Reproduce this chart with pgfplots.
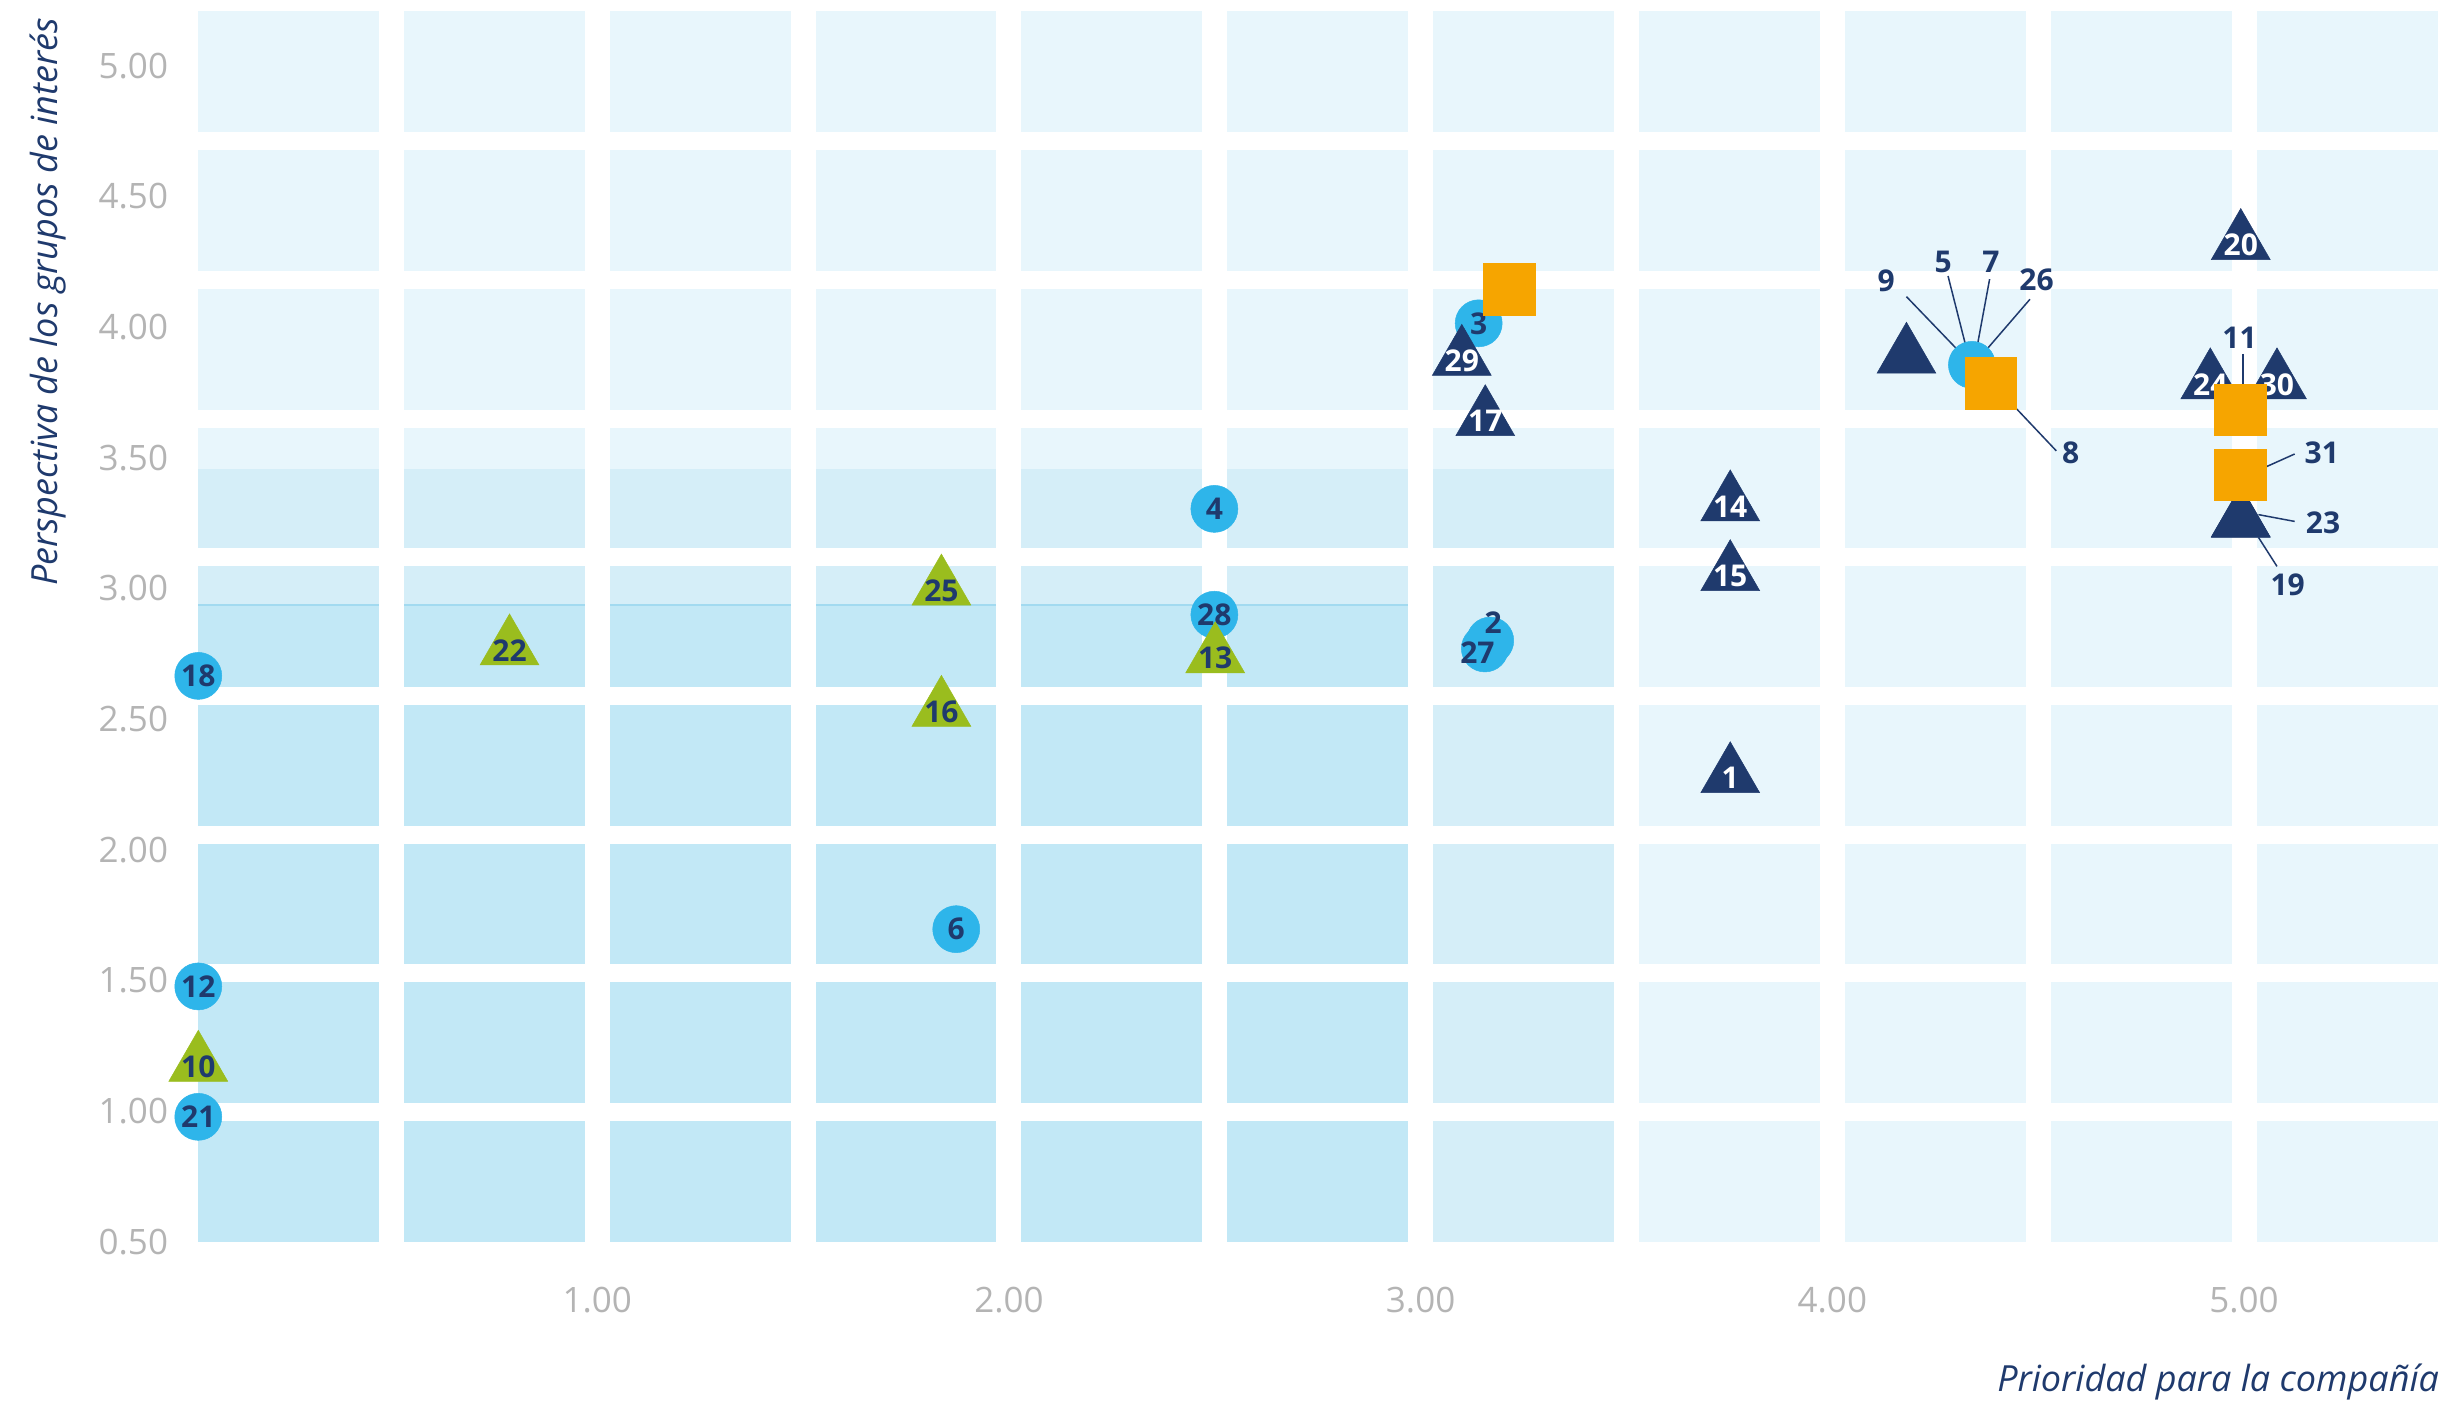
\documentclass[border=0pt]{standalone}
\usepackage{fontspec}
\setmainfont{Open Sans}
\usepackage{pgfplots}
\usepackage{pgfplotstable}
\pgfplotsset{compat=1.18}

\definecolor{tilelight}{HTML}{E8F6FC}
\definecolor{tilemed}{HTML}{D5EEF8}
\definecolor{tiledark}{HTML}{C2E8F6}
\definecolor{zoneline}{HTML}{A2DAF0}
\definecolor{cblue}{HTML}{2EB5EA}
\definecolor{navy}{HTML}{1F3A6D}
\definecolor{lgreen}{HTML}{9ABD1E}
\definecolor{orange}{HTML}{F6A500}
\definecolor{tickgray}{HTML}{B4B4B4}

\newcommand\lblfont{\fontsize{6.0}{7}\selectfont\bfseries}

% circles (light blue)
\pgfplotstableread{
x     y     lbl
0.031 2.665 18
0.031 1.477 12
0.031 0.978 21
1.872 1.696 6
2.499 3.304 4
2.499 2.899 28
3.141 4.014 3
}\circles

\pgfplotstableread{
x     y     lbl
0.787 2.772 22
0.031 1.179 10
1.836 3.001 25
1.836 2.537 16
2.501 2.742 13
}\greentri

\pgfplotstableread{
x     y     lbl
3.100 3.880 29
3.157 3.649 17
3.752 3.323 14
3.752 3.056 15
3.752 2.283 1
4.992 4.323 20
4.918 3.790 24
5.080 3.790 30
}\navytri

% labels set beside the points (some with leader lines)
\pgfplotstableread{
x     y     lbl
4.131 4.178 9
4.269 4.250 5
4.385 4.250 7
4.496 4.180 26
4.579 3.520 8
4.989 3.960 11
5.189 3.517 31
5.192 3.250 23
5.106 3.014 19
3.176 2.869 2
3.138 2.753 27
}\outer

\begin{document}
\begin{tikzpicture}
\begin{axis}[
    set layers,
    scale only axis,
    width=450.4pt, height=246.1pt,
    xmin=0, xmax=5.47, ymin=0.5, ymax=5.208,
    clip=false,
    axis line style={draw=none},
    major tick length=0pt,
    xtick={1,2,3,4,5},
    extra x ticks={0,0.5,1.5,2.5,3.5,4.5},
    extra x tick labels={},
    extra x tick style={grid=major},
    xmajorgrids=true,
    ymajorgrids=false,
    major grid style={white, line width=5pt},
    ytick={0.5,1,1.5,2,2.5,3,3.5,4,4.5,5},
    extra y ticks={0.998,1.527,2.057,2.587,3.121,3.649,4.181,4.712},
    extra y tick labels={},
    extra y tick style={grid=major, major grid style={white, line width=3.6pt}},
    tick label style={font=\fontsize{7}{8}\selectfont, text=tickgray,
        /pgf/number format/fixed, /pgf/number format/fixed zerofill,
        /pgf/number format/precision=2, /pgf/number format/assume math mode=true},
    xticklabel style={anchor=center, yshift=-11.7pt},
    yticklabel style={anchor=east, inner sep=0pt, xshift=-3.3pt},
]
% background zones
\addplot[on layer=axis background, fill=tilelight, draw=none]
    coordinates {(0,0.5) (5.47,0.5) (5.47,5.208) (0,5.208)} -- cycle;
\addplot[on layer=axis background, fill=tilemed, draw=none]
    coordinates {(0,0.5) (3.5,0.5) (3.5,3.457) (0,3.457)} -- cycle;
\addplot[on layer=axis background, fill=tiledark, draw=none]
    coordinates {(0,0.5) (3.0,0.5) (3.0,2.937) (0,2.937)} -- cycle;
\addplot[on layer=axis background, zoneline, line width=0.4pt]
    coordinates {(0,2.937) (3.0,2.937)};

% circles
\addplot[only marks, color=cblue, mark=*, mark size=4.7pt,
    mark options={fill=cblue, line width=0.1pt}]
    coordinates {(4.339,3.855) (3.169,2.800) (3.156,2.770)};
\addplot[only marks, color=cblue, mark=*, mark size=4.7pt,
    mark options={fill=cblue, line width=0.1pt},
    nodes near coords, point meta=explicit symbolic,
    every node near coord/.append style={anchor=center, inner sep=0pt,
        text=navy, font=\lblfont}]
    table[x=x, y=y, meta=lbl] {\circles};

% green triangles
\addplot[only marks, color=lgreen, mark=triangle*, mark size=6.8pt,
    mark options={fill=lgreen, line width=0.1pt},
    nodes near coords, point meta=explicit symbolic,
    every node near coord/.append style={anchor=center, inner sep=0pt,
        yshift=-0.5pt, text=navy, font=\lblfont}]
    table[x=x, y=y, meta=lbl] {\greentri};

% navy triangles
\addplot[only marks, color=navy, mark=triangle*, mark size=6.8pt,
    mark options={fill=navy, line width=0.1pt}]
    coordinates {(4.180,3.888) (4.992,3.260) (4.992,3.262)};
\addplot[only marks, color=navy, mark=triangle*, mark size=6.8pt,
    mark options={fill=navy, line width=0.1pt},
    nodes near coords, point meta=explicit symbolic,
    every node near coord/.append style={anchor=center, inner sep=0pt,
        yshift=-0.5pt, text=white, font=\lblfont}]
    table[x=x, y=y, meta=lbl] {\navytri};

% orange squares
\addplot[only marks, color=orange, mark=square*, mark size=5.15pt,
    mark options={fill=orange, line width=0.1pt}]
    coordinates {(3.215,4.145) (4.385,3.784) (4.991,3.684) (4.991,3.435)};

% leader lines
\addplot[navy, line width=0.3pt, mark=none] coordinates {(4.180,4.116) (4.321,3.885)};
\addplot[navy, line width=0.3pt, mark=none] coordinates {(4.281,4.195) (4.331,3.885)};
\addplot[navy, line width=0.3pt, mark=none] coordinates {(4.382,4.183) (4.347,3.885)};
\addplot[navy, line width=0.3pt, mark=none] coordinates {(4.480,4.106) (4.359,3.885)};
\addplot[navy, line width=0.3pt, mark=none] coordinates {(4.448,3.686) (4.544,3.526)};
\addplot[navy, line width=0.3pt, mark=none] coordinates {(4.997,3.897) (4.997,3.782)};
\addplot[navy, line width=0.3pt, mark=none] coordinates {(5.055,3.466) (5.123,3.514)};
\addplot[navy, line width=0.3pt, mark=none] coordinates {(5.035,3.282) (5.123,3.256)};
\addplot[navy, line width=0.3pt, mark=none] coordinates {(5.035,3.195) (5.080,3.084)};

% labels beside points
\addplot[draw=none, mark=none, nodes near coords, point meta=explicit symbolic,
    every node near coord/.append style={anchor=center, inner sep=0pt,
        text=navy, font=\lblfont}]
    table[x=x, y=y, meta=lbl] {\outer};

% axis titles
\node[anchor=base east, inner sep=0pt, text=navy,
    font=\fontsize{7.2}{8}\selectfont\itshape]
    at (axis cs:5.476,-0.073) {Prioridad para la compañía};
\node[rotate=90, anchor=base east, inner sep=0pt, text=navy,
    font=\fontsize{7.2}{8}\selectfont\itshape]
    at (axis cs:-0.310,5.186) {Perspectiva de los grupos de interés};

\coordinate (bbBL) at (axis cs:-0.4506,-0.1142);
\coordinate (bbTR) at (axis cs:5.510,5.251);
\end{axis}
\pgfresetboundingbox
\path[use as bounding box] (bbBL) rectangle (bbTR);
\end{tikzpicture}
\end{document}
